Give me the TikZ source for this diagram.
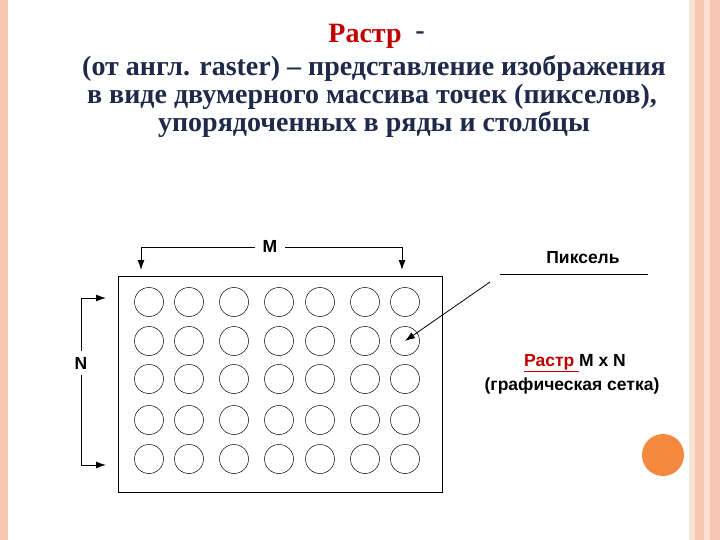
\documentclass[tikz,border=0pt]{standalone}
\usetikzlibrary{arrows.meta}
\usepackage{fontspec}
\setmainfont{Liberation Serif}
\setsansfont{Liberation Sans}
\definecolor{navy}{HTML}{1F2A4A}
\definecolor{rred}{HTML}{C00000}
\definecolor{pinkb}{HTML}{F9C6B2}
\definecolor{pinkl}{HTML}{FBE0D4}
\definecolor{orng}{HTML}{F4883C}
\begin{document}
\begin{tikzpicture}[x=1pt,y=-1pt,
  ttl/.style={font=\bfseries\fontsize{28}{32}\selectfont,text=navy,inner sep=0},
  lbl/.style={font=\sffamily\bfseries\fontsize{17.5}{20}\selectfont,inner sep=1pt},
  pix/.style={draw,circle,minimum size=29pt,inner sep=0,line width=0.5pt},
  arr/.style={-{Latex[length=10pt,width=7pt]},line width=1pt}]
\useasboundingbox (0,0) rectangle (720,540);
\fill[pinkb] (0,0) rectangle (8,540);
\fill[pinkl] (689,0) rectangle (720,540);
\fill[pinkb] (695,0) rectangle (704,540);
\fill[pinkb] (710,0) rectangle (720,540);
\node[ttl,text=rred] (t0) at (365,36) {Растр};
\node[ttl] (t0d) at (420,36) {-};
\node[ttl] (t1) at (374,68) {(от англ. raster) – представление изображения};
\node[ttl] (t2) at (372,97) {в виде двумерного массива точек (пикселов),};
\node[ttl] (t3) at (374,125) {упорядоченных в ряды и столбцы};
\node[draw,line width=0.6pt,minimum width=324pt,minimum height=216pt,inner sep=0] (box) at (280,384) {};
\foreach \x [count=\i] in {149,189,234,279,320,365,405}
  \foreach \y [count=\j] in {302,341,379,420,459}
    \node[pix] (c\i\j) at (\x,\y) {};
\node[lbl,inner sep=8pt] (M) at (270,246) {M};
\coordinate (ml) at (141,247); \coordinate (mr) at (402,247);
\draw[arr] (M.west |- ml) -- (ml) -- (141,270);
\draw[arr] (M.east |- mr) -- (mr) -- (402,270);
\node[lbl,inner sep=6pt] (N) at (81,363) {N};
\draw[arr] (N.north) |- (106,298);
\draw[arr] (N.south) |- (106,465);
\node[lbl] (pk) at (583,258) {Пиксель};
\coordinate (pl) at (500,274); \coordinate (pr) at (648,274);
\draw[line width=0.6pt] (pl) -- (pr);
\coordinate (ps) at (490,282);
\draw[arr,line width=0.8pt] (ps) -- (c72.center);
\node[lbl] (r1) at (575,363) {\textcolor{rred}{\underline{Растр }}M x N};
\node[lbl] (r2) at (572,386) {(графическая сетка)};
\fill[orng] (663,455) circle (21);
\end{tikzpicture}
\end{document}
